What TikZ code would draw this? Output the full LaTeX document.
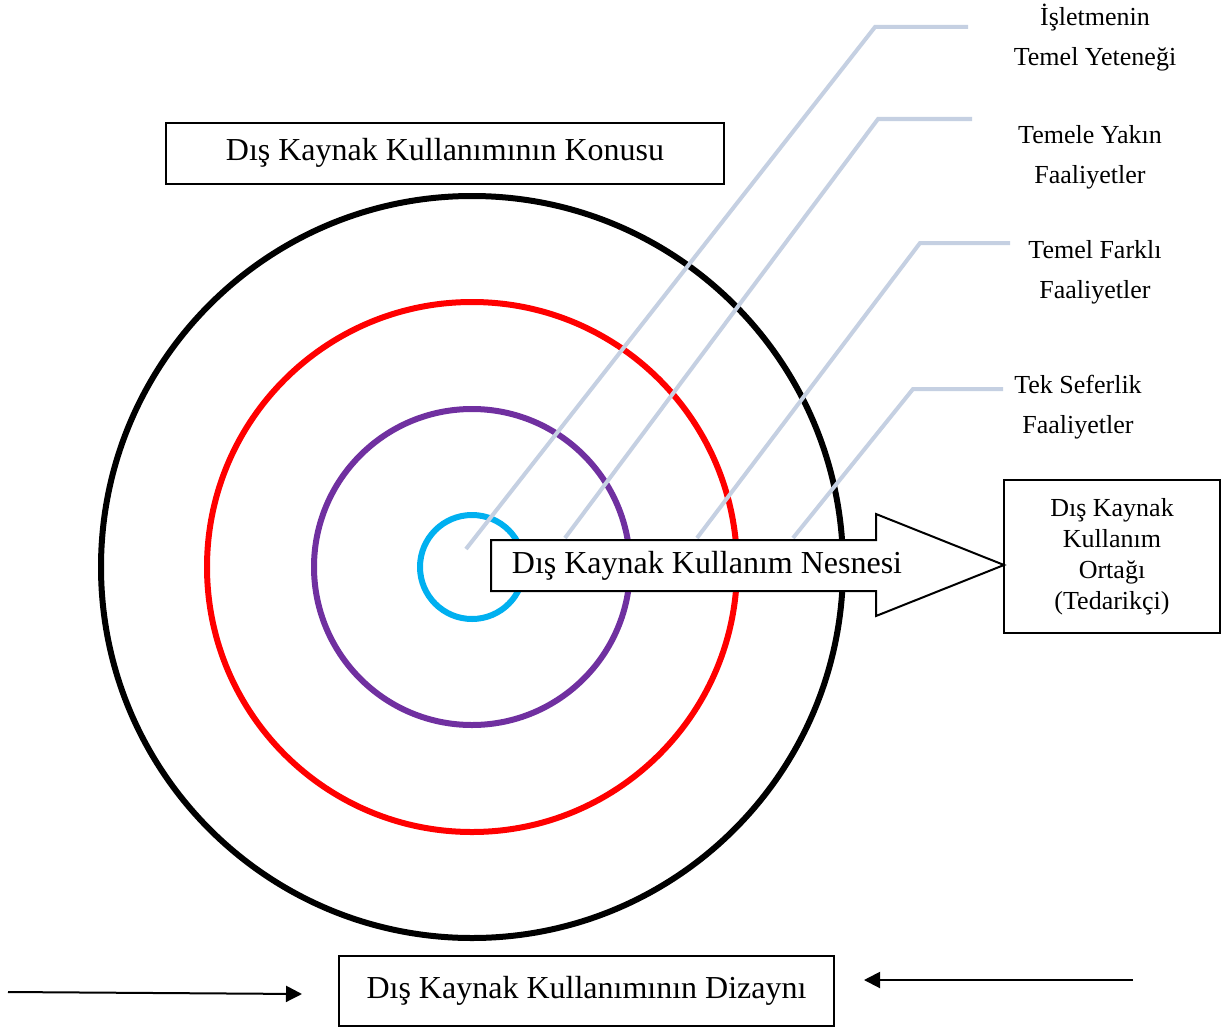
\documentclass[tikz,border=0pt]{standalone}
\usepackage{fontspec}
\setmainfont{Liberation Serif}
\usetikzlibrary{arrows.meta}

\definecolor{leadcol}{RGB}{197,208,226}
\definecolor{ringcyan}{RGB}{0,176,240}
\definecolor{ringpurple}{RGB}{112,48,160}
\definecolor{ringred}{RGB}{255,0,0}

\tikzset{
  ring/.style={line width=6pt},
  leader/.style={draw=leadcol, line width=4pt},
  bigtext/.style={font=\fontsize{32}{38}\selectfont},
  labeltext/.style={font=\fontsize{26}{40}\selectfont, align=center},
  framebox/.style={draw=black, line width=2pt, bigtext, inner sep=0pt},
  flowarrow/.style={draw=black, line width=2pt, -{Triangle[length=16pt,width=16pt]}}
}

\begin{document}
\begin{tikzpicture}[x=1pt,y=-1pt]
  \path[use as bounding box, fill=white] (0,0) rectangle (1230,1030);

  % concentric rings
  \coordinate (c) at (472,567);
  \draw[ring, black]      (c) circle[radius=371];
  \draw[ring, ringred]    (c) circle[radius=265];
  \draw[ring, ringpurple] (c) circle[radius=158];
  \draw[ring, ringcyan]   (c) circle[radius=52];

  % leader lines
  \coordinate (l1a) at (466,549);  \coordinate (l1b) at (875,27);  \coordinate (l1c) at (968,27);
  \coordinate (l2a) at (565,538);  \coordinate (l2b) at (878,119); \coordinate (l2c) at (972,119);
  \coordinate (l3a) at (697,538);  \coordinate (l3b) at (920,243); \coordinate (l3c) at (1010,243);
  \coordinate (l4a) at (793,538);  \coordinate (l4b) at (913,389); \coordinate (l4c) at (1003,389);
  \draw[leader] (l1a) -- (l1b) -- (l1c);
  \draw[leader] (l2a) -- (l2b) -- (l2c);
  \draw[leader] (l3a) -- (l3b) -- (l3c);
  \draw[leader] (l4a) -- (l4b) -- (l4c);

  % leader labels
  \node[labeltext] (lab1) at (1095,38)  {İşletmenin\\Temel Yeteneği};
  \node[labeltext] (lab2) at (1090,157) {Temele Yakın\\Faaliyetler};
  \node[labeltext] (lab3) at (1095,272) {Temel Farklı\\Faaliyetler};
  \node[labeltext] (lab4) at (1078,407) {Tek Seferlik\\Faaliyetler};

  % top and bottom boxes
  \node[framebox, minimum width=558, minimum height=61] (konu) at (445,153)
    {\raisebox{-2pt}{Dış Kaynak Kullanımının Konusu}};
  \node[framebox, minimum width=495, minimum height=70] (dizayn) at (586.5,991)
    {Dış Kaynak Kullanımının Dizaynı};

  % block arrow
  \draw[black, line width=2pt, fill=white]
    (491,540) -- (876,540) -- (876,514) -- (1004,565) -- (876,616)
    -- (876,591) -- (491,591) -- cycle;
  \node[bigtext] (nesne) at (707,566) {Dış Kaynak Kullanım Nesnesi};

  % supplier box
  \node[draw=black, line width=2pt, inner sep=0pt,
        minimum width=216, minimum height=153,
        font=\fontsize{26}{31}\selectfont, align=center] (ortak) at (1112,556.5)
    {Dış Kaynak\\Kullanım\\Ortağı\\(Tedarikçi)};

  % side arrows toward the design box
  \coordinate (la) at (8,992);
  \coordinate (lb) at (302,994);
  \coordinate (ra) at (1133,980);
  \coordinate (rb) at (864,980);
  \draw[flowarrow] (la) -- (lb);
  \draw[flowarrow] (ra) -- (rb);
\end{tikzpicture}
\end{document}
